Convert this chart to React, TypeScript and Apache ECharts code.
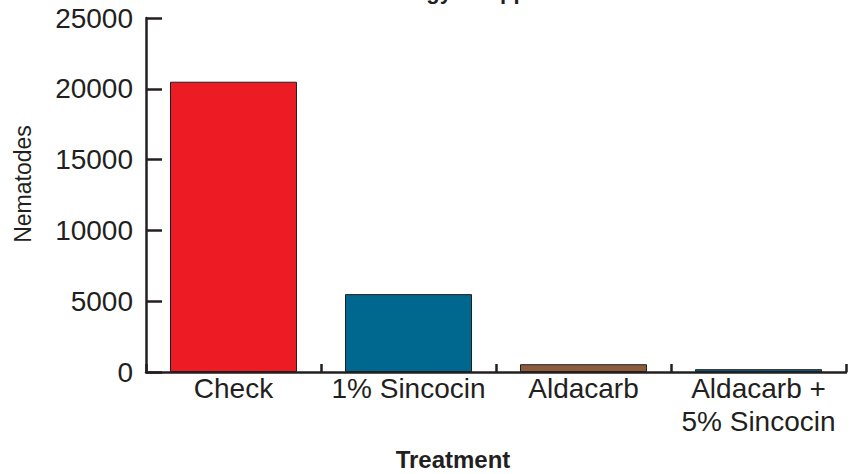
import React, { useEffect, useRef } from "react";
import * as echarts from "echarts";

const categories = ["Check", "1% Sincocin", "Aldacarb", "Aldacarb +\n5% Sincocin"];
const values = [20500, 5500, 550, 200];
const barColors = ["#ED1C24", "#00688F", "#8D5D3B", "#00688F"];
const yTicks = [0, 5000, 10000, 15000, 20000, 25000];

export default function App() {
  const ref = useRef<HTMLDivElement>(null);
  useEffect(() => {
    if (!ref.current) return;
    const chart = echarts.init(ref.current, null, { renderer: "svg" });
    const font = "'Liberation Sans', Arial, sans-serif";
    chart.setOption({
      animation: false,
      backgroundColor: "#ffffff",
      grid: { left: 146, right: 11, top: 18, bottom: 102, containLabel: false },
      graphic: [
        {
          type: "text",
          left: 326,
          top: -20,
          style: { text: "Nematology of Apple", font: `bold 22px ${font}`, fill: "#231f20" },
        },
        {
          type: "text",
          x: 453,
          y: 459,
          style: {
            text: "Treatment",
            font: `bold 24px ${font}`,
            fill: "#231f20",
            align: "center",
            verticalAlign: "middle",
          },
        },
        {
          type: "text",
          x: 23,
          y: 184,
          rotation: Math.PI / 2,
          style: {
            text: "Nematodes",
            font: `23px ${font}`,
            fill: "#231f20",
            align: "center",
            verticalAlign: "middle",
          },
        },
      ],
      xAxis: {
        type: "category",
        data: categories,
        boundaryGap: true,
        axisLine: { show: true, lineStyle: { color: "#231f20", width: 2.5 } },
        axisTick: { show: true, inside: true, length: 8, lineStyle: { color: "#231f20", width: 2.5 } },
        axisLabel: {
          color: "#231f20",
          fontSize: 28,
          fontFamily: font,
          margin: 0,
          lineHeight: 33,
          interval: 0,
        },
        splitLine: { show: false },
      },
      yAxis: {
        type: "value",
        min: 0,
        max: 25000,
        interval: 5000,
        axisLine: { show: true, lineStyle: { color: "#231f20", width: 2.5 } },
        axisTick: { show: true, inside: true, length: 16, lineStyle: { color: "#231f20", width: 2.5 } },
        axisLabel: {
          color: "#231f20",
          fontSize: 28,
          fontFamily: font,
          margin: 13,
          customValues: yTicks,
          formatter: (v: number) => String(v),
        },
        splitLine: { show: false },
      },
      series: [
        {
          type: "bar",
          barWidth: 127,
          data: values.map((v, i) => ({
            value: v,
            itemStyle: { color: barColors[i], borderColor: "#231f20", borderWidth: 1 },
          })),
        },
      ],
    });
    return () => chart.dispose();
  }, []);
  return (
    <div
      ref={ref}
      style={{ position: "absolute", left: 0, top: 0, width: 857, height: 474 }}
    />
  );
}
